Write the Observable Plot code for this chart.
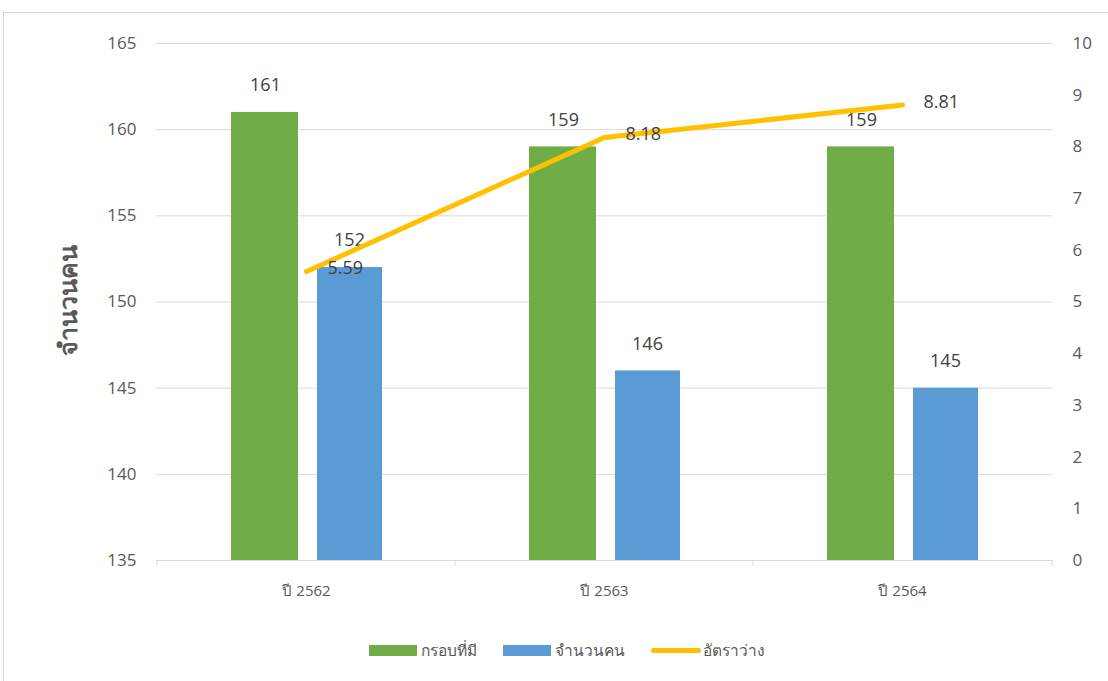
<!DOCTYPE html>
<html><head><meta charset="utf-8">
<script src="https://cdn.jsdelivr.net/npm/d3@7"></script>
<script src="https://cdn.jsdelivr.net/npm/@observablehq/plot@0.6"></script>
<style>
body{margin:0;background:#fff;font-family:"Open Sans","Noto Sans","DejaVu Sans",sans-serif;}
#frame{position:absolute;left:3px;top:12px;width:1200px;height:800px;border:1px solid #d9d9d9;}
#chart{position:absolute;left:0;top:0;}
#ytitle{position:absolute;left:68px;top:300px;transform:translate(-50%,-50%) rotate(-90deg);font-size:25px;font-weight:bold;color:#595959;white-space:nowrap;}
#legend{position:absolute;left:13px;top:638px;width:1108px;display:flex;justify-content:center;gap:0;font-size:15.5px;color:#595959;}
.li{display:flex;align-items:center;margin:0 13px;}
.sw{display:inline-block;width:48px;height:11px;margin-right:4px;}
.ln{display:inline-block;width:50px;height:5px;border-radius:3px;margin-right:2px;}
</style></head>
<body>
<div id="frame"></div>
<div id="chart"></div>
<div id="ytitle"></div>
<div id="legend"></div>
<script>
const categories = ["ปี 2562", "ปี 2563", "ปี 2564"];
const seriesNames = ["กรอบที่มี", "จำนวนคน", "อัตราว่าง"];
const quota = [161, 159, 159];
const people = [152, 146, 145];
const rate = [5.59, 8.18, 8.81];
const leftTicks = [135, 140, 145, 150, 155, 160, 165];
const rightTicks = [0, 1, 2, 3, 4, 5, 6, 7, 8, 9, 10];
const yTitle = "จำนวนคน";

const colors = ["#70AD47", "#5B9BD5", "#FFC000"];
const yMin = 135, yMax = 165, rMax = 10;
const toLeft = v => yMin + v * (yMax - yMin) / rMax;

const q = categories.map((c, i) => ({cat: c, v: quota[i]}));
const p = categories.map((c, i) => ({cat: c, v: people[i]}));
const r = categories.map((c, i) => ({cat: c, v: rate[i], y: toLeft(rate[i])}));

const font = '"Open Sans","Noto Sans","DejaVu Sans",sans-serif';
const chart = Plot.plot({
  width: 1108, height: 625,
  marginLeft: 156, marginRight: 56, marginTop: 43, marginBottom: 65,
  style: {fontFamily: font, background: "transparent"},
  x: {type: "band", domain: categories, padding: 0, label: null},
  y: {domain: [yMin, yMax], label: null},
  marks: [
    Plot.gridY(leftTicks.filter(d => d > yMin), {stroke: "#d9d9d9", strokeOpacity: 1}),
    Plot.ruleY([yMin], {stroke: "#d9d9d9"}),
    Plot.axisX({text: null, tickSize: 6, dx: -149.5, stroke: "#d9d9d9", label: null}),
    Plot.axisX({ticks: [categories[categories.length - 1]], text: null, tickSize: 6, dx: 149.5, stroke: "#d9d9d9", label: null}),
    Plot.axisX({tickSize: 0, tickPadding: 25, fontSize: 15, fill: "#595959", label: null}),
    Plot.axisY({ticks: leftTicks, tickSize: 0, tickPadding: 20, fontSize: 17, fill: "#595959", label: null}),
    Plot.axisY({anchor: "right", ticks: rightTicks.map(toLeft), tickFormat: d => Math.round((d - yMin) * rMax / (yMax - yMin)), tickSize: 0, tickPadding: 20, fontSize: 17, fill: "#595959", textAnchor: "start", label: null}),
    Plot.barY(q, {x: "cat", y1: yMin, y2: "v", fill: colors[0], insetLeft: 74, insetRight: 157}),
    Plot.barY(p, {x: "cat", y1: yMin, y2: "v", fill: colors[1], insetLeft: 160, insetRight: 73}),
    Plot.text(q, {x: "cat", y: "v", text: d => String(d.v), dx: -41, dy: -27, fontSize: 18, fill: "#404040"}),
    Plot.text(p, {x: "cat", y: "v", text: d => String(d.v), dx: 43, dy: -27, fontSize: 18, fill: "#404040"}),
    Plot.line(r, {x: "cat", y: "y", stroke: colors[2], strokeWidth: 5}),
    Plot.text(r, {x: "cat", y: "y", text: d => d.v.toFixed(2), dx: 21, dy: -3, textAnchor: "start", fontSize: 18, fill: "#404040"})
  ]
});
document.getElementById("chart").appendChild(chart);
document.getElementById("ytitle").textContent = yTitle;

const lg = document.getElementById("legend");
seriesNames.forEach((n, i) => {
  const it = document.createElement("div");
  it.className = "li";
  const s = document.createElement("span");
  s.className = i < 2 ? "sw" : "ln";
  s.style.background = colors[i];
  it.appendChild(s);
  it.appendChild(document.createTextNode(n));
  lg.appendChild(it);
});
</script>
</body></html>
